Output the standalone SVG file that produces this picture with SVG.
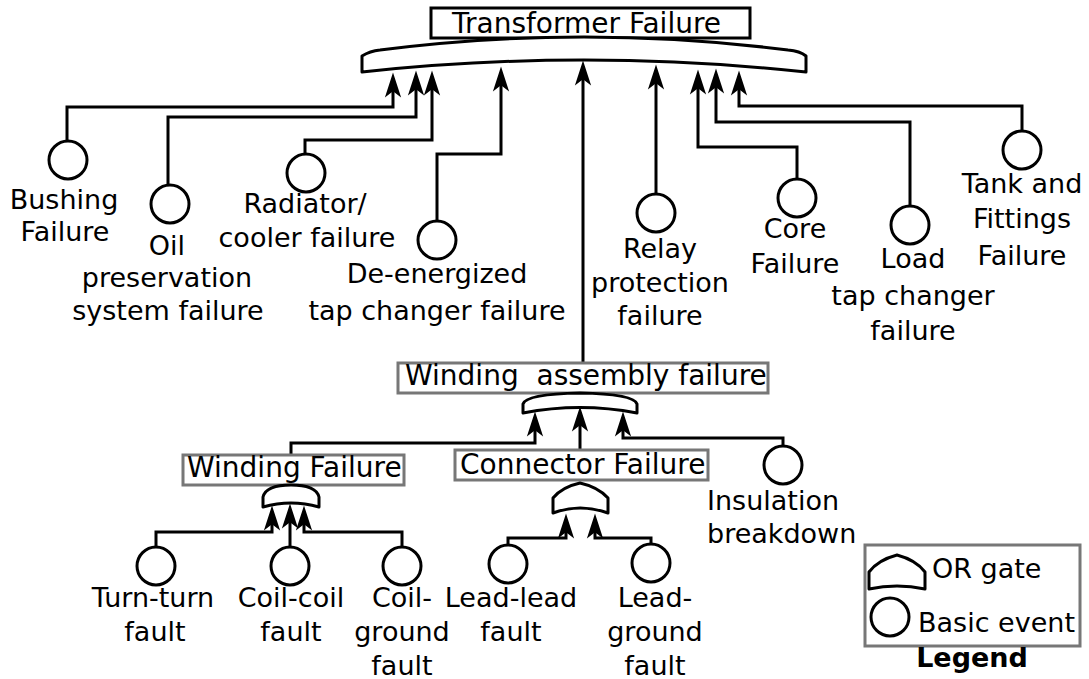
<svg xmlns="http://www.w3.org/2000/svg" width="1089" height="679" viewBox="0 0 1089 679">
<style>
text{font-family:"DejaVu Sans","Verdana",sans-serif;font-size:27px;fill:#000}
.lbl{text-anchor:middle}
.title{font-size:28px;white-space:pre}
.ev{fill:#fff;stroke:#000;stroke-width:3}
.gate{fill:#fff;stroke:#000;stroke-width:3;stroke-linejoin:round}
.box{fill:#fff;stroke:#777;stroke-width:3}
.boxb{fill:#fff;stroke:#000;stroke-width:3}
.c{fill:none;stroke:#000;stroke-width:3;marker-end:url(#ah)}
</style>
<defs>
<marker id="ah" markerUnits="userSpaceOnUse" markerWidth="30" markerHeight="20" viewBox="-15 -8 23 16" refX="0" refY="0" orient="auto" overflow="visible">
<path d="M6,0 L-14,-6.5 L-9,0 L-14,6.5 Z" fill="#000"/>
</marker>
</defs>
<rect width="1089" height="679" fill="#fff"/>

<g id="connectors">
<path class="c" d="M67,141 V107 H393 V80"/>
<path class="c" d="M168,185 V117 H416 V78"/>
<path class="c" d="M305,154 V140 H432 V78"/>
<path class="c" d="M437,221 V154 H501 V74"/>
<path class="c" d="M583,363 V68"/>
<path class="c" d="M656,194 V72"/>
<path class="c" d="M797,179 V147 H698 V77"/>
<path class="c" d="M910,206 V122 H716 V76"/>
<path class="c" d="M1022,131 V106 H739 V78"/>
<path class="c" d="M291,455 V443 H535 V419"/>
<path class="c" d="M580,450 V414"/>
<path class="c" d="M783,446 V438 H623 V419"/>
<path class="c" d="M156,546 V532 H272 V513"/>
<path class="c" d="M290,546 V511"/>
<path class="c" d="M402,546 V532 H304 V513"/>
<path class="c" d="M508,545 V538 H566 V521"/>
<path class="c" d="M651,544 V538 H595 V521"/>
</g>

<g id="transformer-failure">
<rect class="boxb" x="431" y="8" width="319" height="30"/>
<text class="title" x="452" y="33">Transformer Failure</text>
<path class="gate" d="M362,72 V56 Q370,51 380,50 Q584,24 788,50 Q800,51 806,56 V72 Q584,48 362,72 Z"/>
</g>

<g id="bushing">
<circle class="ev" cx="68" cy="160" r="19"/>
<text class="lbl" x="64" y="209">Bushing</text>
<text class="lbl" x="65" y="241">Failure</text>
</g>
<g id="oil">
<circle class="ev" cx="170" cy="204" r="19"/>
<text class="lbl" x="167" y="255">Oil</text>
<text class="lbl" x="167" y="287">preservation</text>
<text class="lbl" x="168" y="320">system failure</text>
</g>
<g id="radiator">
<circle class="ev" cx="306" cy="173" r="19"/>
<text class="lbl" x="305" y="213">Radiator/</text>
<text class="lbl" x="307" y="247">cooler failure</text>
</g>
<g id="deenergized">
<circle class="ev" cx="437" cy="240" r="19"/>
<text class="lbl" x="437" y="283">De-energized</text>
<text class="lbl" x="437" y="320">tap changer failure</text>
</g>
<g id="relay">
<circle class="ev" cx="656" cy="213" r="19"/>
<text class="lbl" x="660" y="258">Relay</text>
<text class="lbl" x="660" y="292">protection</text>
<text class="lbl" x="660" y="325">failure</text>
</g>
<g id="core">
<circle class="ev" cx="797" cy="198" r="19"/>
<text class="lbl" x="795" y="238">Core</text>
<text class="lbl" x="795" y="273">Failure</text>
</g>
<g id="load">
<circle class="ev" cx="910" cy="225" r="19"/>
<text class="lbl" x="913" y="268">Load</text>
<text class="lbl" x="913" y="305">tap changer</text>
<text class="lbl" x="913" y="340">failure</text>
</g>
<g id="tank">
<circle class="ev" cx="1022" cy="150" r="19"/>
<text class="lbl" x="1022" y="193">Tank and</text>
<text class="lbl" x="1022" y="228">Fittings</text>
<text class="lbl" x="1022" y="265">Failure</text>
</g>

<g id="winding-assembly">
<rect class="box" x="398" y="363" width="370" height="30"/>
<text class="title" x="405" y="385">Winding  assembly failure</text>
<path class="gate" d="M523,413 V404 Q526,394 580,393 Q634,394 637,404 V413 Q580,402 523,413 Z"/>
</g>

<g id="winding-failure">
<rect class="box" x="183" y="455" width="221" height="30"/>
<text class="title" x="187" y="477">Winding Failure</text>
<path class="gate" d="M263,507 V497 Q266,485 291,485 Q316,485 319,497 V507 Q291,499 263,507 Z"/>
</g>

<g id="connector-failure">
<rect class="box" x="455" y="450" width="253" height="30"/>
<text class="title" x="460" y="474">Connector Failure</text>
<path class="gate" d="M553,513 V498 Q562,487 580,483 Q598,487 608,498 V513 Q580,503 553,513 Z"/>
</g>

<g id="insulation">
<circle class="ev" cx="783" cy="465" r="19"/>
<text x="707" y="510">Insulation</text>
<text x="707" y="543">breakdown</text>
</g>

<g id="turn-turn">
<circle class="ev" cx="156" cy="566" r="19"/>
<text class="lbl" x="153" y="607">Turn-turn</text>
<text class="lbl" x="155" y="641">fault</text>
</g>
<g id="coil-coil">
<circle class="ev" cx="290" cy="566" r="19"/>
<text class="lbl" x="291" y="607">Coil-coil</text>
<text class="lbl" x="291" y="641">fault</text>
</g>
<g id="coil-ground">
<circle class="ev" cx="402" cy="566" r="19"/>
<text class="lbl" x="402" y="607">Coil-</text>
<text class="lbl" x="402" y="641">ground</text>
<text class="lbl" x="402" y="675">fault</text>
</g>
<g id="lead-lead">
<circle class="ev" cx="508" cy="564" r="19"/>
<text class="lbl" x="511" y="607">Lead-lead</text>
<text class="lbl" x="511" y="641">fault</text>
</g>
<g id="lead-ground">
<circle class="ev" cx="651" cy="563" r="19"/>
<text class="lbl" x="655" y="607">Lead-</text>
<text class="lbl" x="655" y="641">ground</text>
<text class="lbl" x="655" y="675">fault</text>
</g>

<g id="legend">
<rect class="box" x="865" y="545" width="215" height="101"/>
<path class="gate" d="M869,589 V572 Q878,560 897,555 Q916,560 925,572 V589 Q897,583 869,589 Z"/>
<text x="932" y="578">OR gate</text>
<circle class="ev" cx="890" cy="617" r="19"/>
<text x="918" y="632">Basic event</text>
<text x="972" y="667" text-anchor="middle" font-weight="bold" font-size="25">Legend</text>
</g>
</svg>
